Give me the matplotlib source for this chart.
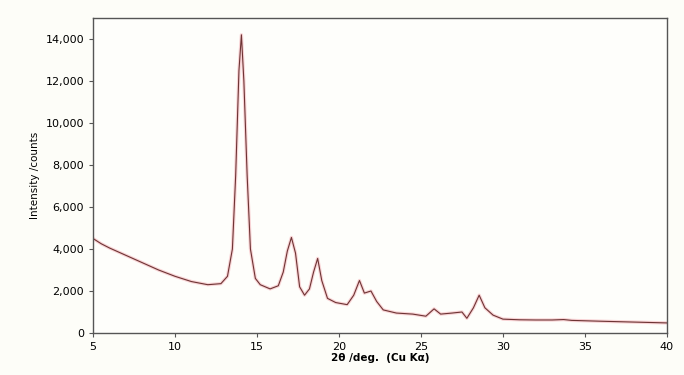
import matplotlib
matplotlib.use("Agg")
import matplotlib.pyplot as plt
from matplotlib.ticker import FuncFormatter

# XRD pattern
two_theta = [5.0, 5.5, 6.0, 7.0, 8.0, 9.0, 10.0, 11.0, 12.0, 12.8, 13.2, 13.5, 13.7,
             13.9, 14.05, 14.2, 14.4, 14.6, 14.9, 15.2, 15.8, 16.3, 16.6, 16.85, 17.1,
             17.35, 17.6, 17.9, 18.2, 18.45, 18.7, 18.95, 19.3, 19.8, 20.5, 20.9, 21.25,
             21.55, 21.95, 22.3, 22.7, 23.5, 24.5, 25.3, 25.8, 26.2, 26.9, 27.5, 27.8,
             28.2, 28.55, 28.9, 29.4, 30.0, 31.0, 32.0, 33.0, 33.7, 34.2, 36.0, 38.0,
             40.0]
intensity = [4500, 4250, 4050, 3700, 3350, 3000, 2700, 2450, 2300, 2350, 2700, 4000, 7500,
             12500, 14200, 12000, 7500, 4000, 2600, 2300, 2100, 2250, 2900, 3900, 4550,
             3800, 2200, 1800, 2100, 2900, 3550, 2500, 1650, 1450, 1350, 1800, 2500,
             1900, 2000, 1500, 1100, 950, 900, 800, 1150, 900, 950, 1000, 700,
             1200, 1800, 1200, 850, 660, 630, 620, 620, 640, 600, 560, 520,
             480]

x_ticks = [5, 10, 15, 20, 25, 30, 35, 40]
y_ticks = [0, 2000, 4000, 6000, 8000, 10000, 12000, 14000]

fig = plt.figure(figsize=(6.84, 3.75), dpi=100)
fig.patch.set_facecolor("#fdfdf8")
ax = fig.add_axes([0.136, 0.112, 0.839, 0.840])
ax.set_facecolor("#fefefb")

# pink halo + dark red trace
ax.plot(two_theta, intensity, color="#f4b0b6", linewidth=2.4, alpha=0.55)
ax.plot(two_theta, intensity, color="#6e3434", linewidth=0.8)

ax.set_xlim(5, 40)
ax.set_ylim(0, 15000)
ax.set_xticks(x_ticks)
ax.set_yticks(y_ticks)
ax.yaxis.set_major_formatter(FuncFormatter(lambda v, p: f"{int(v):,}"))
ax.tick_params(labelsize=8, length=3, color="#555555")

for s in ax.spines.values():
    s.set_color("#555555")
    s.set_linewidth(1.0)

ax.set_xlabel("2θ /deg.  (Cu Kα)", fontsize=7.5, fontweight="bold", labelpad=1)
ax.set_ylabel("Intensity /counts", fontsize=7.5, labelpad=4)

fig.savefig("out.png", dpi=100, facecolor=fig.get_facecolor())
